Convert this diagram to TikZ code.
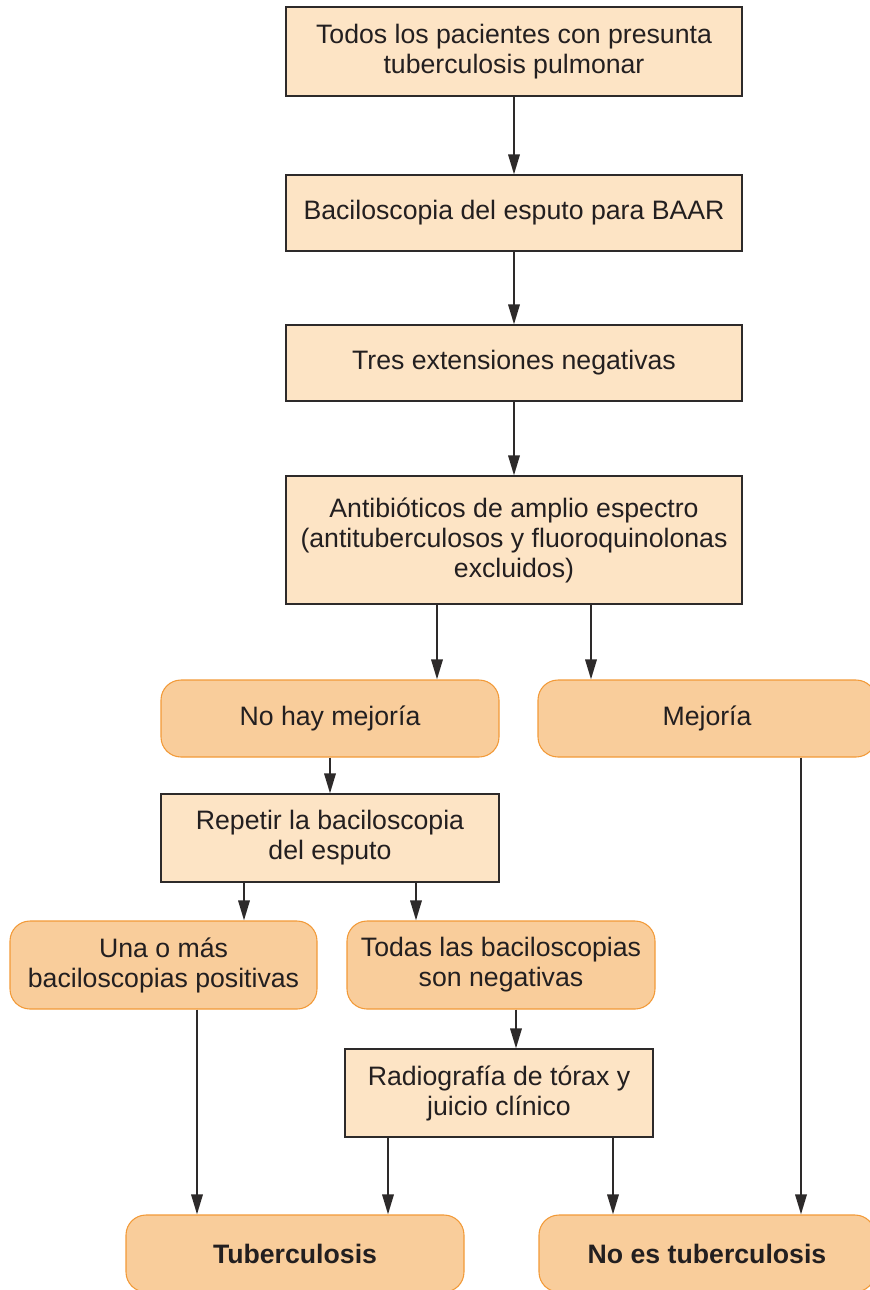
\documentclass[tikz,border=0pt]{standalone}
\usepackage{fontspec}
\setmainfont{Liberation Sans}
\usetikzlibrary{arrows.meta}

\definecolor{melocoton}{RGB}{253,228,197}
\definecolor{naranja}{RGB}{249,205,155}
\definecolor{bordenaranja}{RGB}{242,154,56}
\definecolor{gris}{RGB}{45,42,42}
\definecolor{texto}{RGB}{35,31,32}

\begin{document}
\begin{tikzpicture}[x=0.75pt,y=-0.75pt,
  caja/.style={draw=gris,fill=melocoton,line width=0.8pt,align=center,
    text=texto,inner sep=0pt,font=\fontsize{20}{22.5}\selectfont},
  redonda/.style={draw=bordenaranja,fill=naranja,line width=0.8pt,
    rounded corners=15pt,align=center,text=texto,inner sep=0pt,
    font=\fontsize{20}{22.5}\selectfont},
  final/.style={redonda,font=\fontsize{20}{22.5}\selectfont\bfseries},
  flecha/.style={draw=gris,line width=1.7pt,-{Triangle[length=15pt,width=8.5pt]}}]

  \useasboundingbox (0,0) rectangle (869,1290);

  % columna central
  \node[caja,minimum width=342pt,minimum height=66.75pt] (todos) at (514,51.5)
    {Todos los pacientes con presunta\\tuberculosis pulmonar};
  \node[caja,minimum width=342pt,minimum height=57pt] (bacilo) at (514,213)
    {Baciloscopia del esputo para BAAR};
  \node[caja,minimum width=342pt,minimum height=57pt] (tres) at (514,363)
    {Tres extensiones negativas};
  \node[caja,minimum width=342pt,minimum height=96pt] (antib) at (514,540)
    {Antibióticos de amplio espectro\\(antituberculosos y fluoroquinolonas\\excluidos)};

  % respuesta
  \node[redonda,minimum width=253.5pt,minimum height=57.75pt] (nohay) at (330,718.5)
    {No hay mejoría};
  \node[redonda,minimum width=253.5pt,minimum height=57.75pt] (mejoria) at (707,718.5)
    {Mejoría};
  \node[caja,minimum width=253.5pt,minimum height=66pt] (repetir) at (330,838)
    {Repetir la baciloscopia\\del esputo};

  % resultados
  \node[redonda,minimum width=230.25pt,minimum height=66pt] (positiva) at (163.5,965)
    {Una o más\\baciloscopias positivas};
  \node[redonda,minimum width=231pt,minimum height=66pt] (negativa) at (501,965)
    {Todas las baciloscopias\\son negativas};
  \node[caja,minimum width=231pt,minimum height=66pt] (radio) at (499,1093)
    {Radiografía de tórax y\\juicio clínico};

  % diagnostico
  \node[final,minimum width=253.5pt,minimum height=57.75pt] (tb) at (295,1253.5)
    {Tuberculosis};
  \node[final,minimum width=252pt,minimum height=57.75pt] (notb) at (707,1253.5)
    {No es tuberculosis};

  \draw[flecha] (todos) -- (bacilo);
  \draw[flecha] (bacilo) -- (tres);
  \draw[flecha] (tres) -- (antib);
  \draw[flecha] (antib.south -| 437,0) -- (nohay.north -| 437,0);
  \draw[flecha] (antib.south -| 591,0) -- (mejoria.north -| 591,0);
  \draw[flecha] (nohay) -- (repetir);
  \draw[flecha] (repetir.south -| 244,0) -- (positiva.north -| 244,0);
  \draw[flecha] (repetir.south -| 416,0) -- (negativa.north -| 416,0);
  \draw[flecha] (negativa.south -| 516,0) -- (radio.north -| 516,0);
  \draw[flecha] (positiva.south -| 197,0) -- (tb.north -| 197,0);
  \draw[flecha] (radio.south -| 388,0) -- (tb.north -| 388,0);
  \draw[flecha] (radio.south -| 613,0) -- (notb.north -| 613,0);
  \draw[flecha] (mejoria.south -| 801,0) -- (notb.north -| 801,0);

\end{tikzpicture}
\end{document}
